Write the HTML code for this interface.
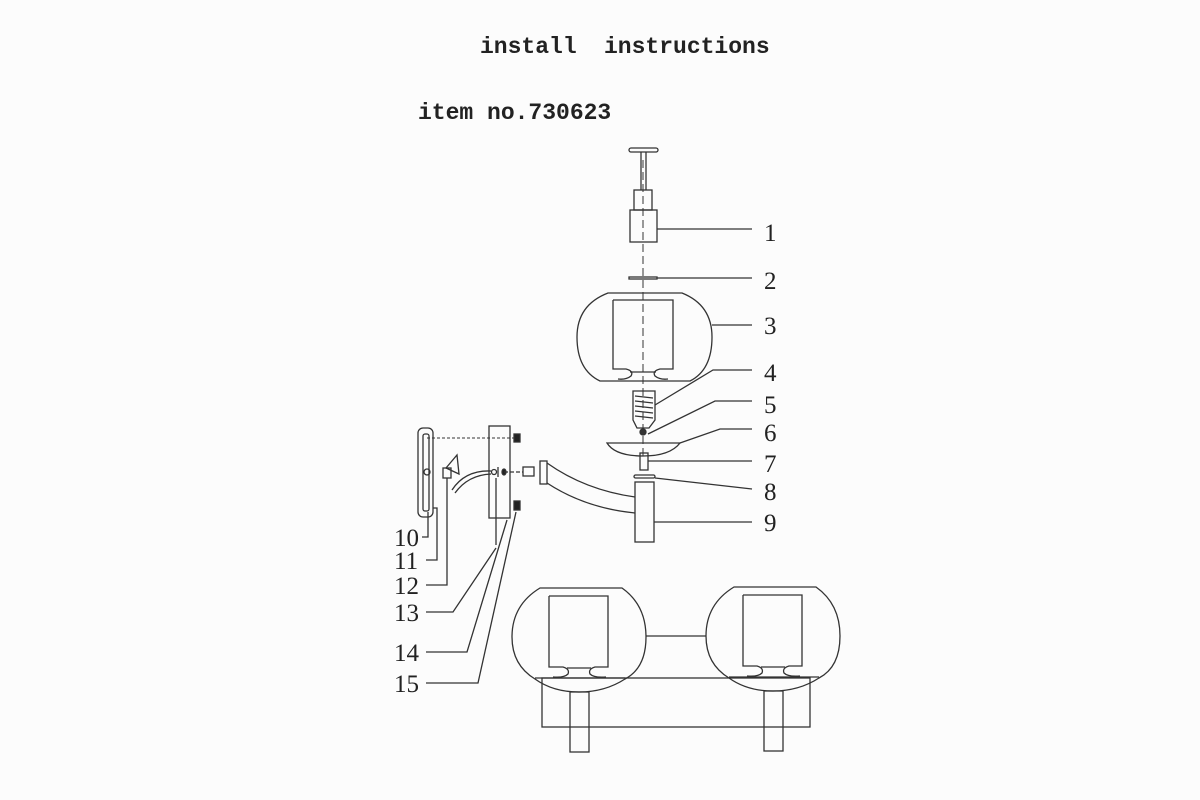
<!DOCTYPE html>
<html><head><meta charset="utf-8"><style>
html,body{margin:0;padding:0;background:#fcfcfc;}
svg{display:block}
text{font-family:"Liberation Serif",serif;fill:#222}
.t{font-family:"Liberation Mono",monospace;font-weight:bold;font-size:23px}
</style></head><body>
<svg width="1200" height="800" viewBox="0 0 1200 800" xmlns="http://www.w3.org/2000/svg">
<g fill="none" stroke="#333" stroke-width="1.3">
<line x1="643" y1="160" x2="643" y2="460" stroke-dasharray="8,4" stroke-width="1"/>
<rect x="629" y="148" width="29" height="4" rx="2"/>
<line x1="641" y1="152" x2="641" y2="190"/><line x1="646" y1="152" x2="646" y2="190"/>
<rect x="634" y="190" width="18" height="20"/>
<rect x="630" y="210" width="27" height="32"/>
<line x1="657" y1="229" x2="752" y2="229"/>
<rect x="629" y="277" width="28" height="2"/>
<line x1="657" y1="278" x2="752" y2="278"/>
<path d="M608 293 L682 293 Q712 305 712 337 Q712 370 690 381 L600 381 Q577 370 577 337 Q577 305 608 293 Z"/>
<path d="M613 300 L673 300 L673 369 L660 369 Q652 371 655 376 Q660 380 668 379 M613 300 L613 369 L626 369 Q634 371 631 376 Q626 380 618 379"/>
<line x1="630" y1="372" x2="656" y2="372"/>
<line x1="712" y1="325" x2="752" y2="325"/>
<path d="M633 391 L655 391 L655 420 L649 428 L637 428 L633 420 Z"/>
<path d="M635 396 L653 398 M635 401 L653 403 M635 406 L653 408 M635 411 L653 413 M635 416 L653 418"/>
<path d="M655 405 L713 370 L752 370"/>
<circle cx="643" cy="432" r="3" fill="#333"/>
<path d="M648 434 L715 401 L752 401"/>
<path d="M607 443 L680 443 Q670 456 643 456 Q615 456 607 443 Z"/>
<path d="M680 443 L720 429 L752 429"/>
<rect x="640" y="453" width="8" height="17"/>
<line x1="648" y1="461" x2="752" y2="461"/>
<rect x="634" y="475" width="21" height="3" rx="1.5"/>
<line x1="655" y1="478" x2="752" y2="489"/>
<rect x="540" y="461" width="7" height="23"/>
<path d="M547 463 Q585 490 635 497 M547 483 Q585 508 635 513"/>
<rect x="635" y="482" width="19" height="60"/>
<line x1="654" y1="522" x2="752" y2="522"/>
<rect x="418" y="428" width="15" height="89" rx="5"/>
<rect x="423" y="434" width="6" height="77" rx="2"/>
<circle cx="427" cy="472" r="3"/>
<line x1="427" y1="438" x2="520" y2="438" stroke-dasharray="3,2" stroke-width="0.9"/>
<rect x="514" y="434" width="6" height="8" fill="#222"/>
<rect x="514" y="501" width="6" height="9" fill="#222"/>
<rect x="489" y="426" width="21" height="92"/>
<circle cx="494" cy="472" r="2.5"/>
<line x1="498" y1="467" x2="498" y2="477"/>
<ellipse cx="504" cy="472" rx="2" ry="3" fill="#222"/>
<line x1="504" y1="472" x2="523" y2="472" stroke-dasharray="4,2"/>
<rect x="523" y="467" width="11" height="9"/>
<line x1="496" y1="478" x2="496" y2="545"/>
<path d="M446 468 L457 455 L459 474 Z"/>
<path d="M491 471 Q465 470 452 490 M491 474 Q468 475 455 493"/>
<rect x="443" y="468" width="8" height="10"/>
<path d="M428 512 L428 537 L422 537"/>
<path d="M433 508 L437 508 L437 560 L426 560"/>
<path d="M447 478 L447 585 L426 585"/>
<path d="M496 548 L453 612 L426 612"/>
<path d="M507 520 L467 652 L426 652"/>
<path d="M516 512 L478 683 L426 683"/>
<g id="gl">
<path d="M540 588 L622 588 Q646 605 646 637 Q646 668 625 679 Q605 692 579 692 Q553 692 535 679 Q512 665 512 637 Q512 605 540 588 Z"/>
<path d="M549 596 L608 596 L608 667 L595 667 Q588 669 590 674 Q594 678 606 677 M549 596 L549 667 L563 667 Q570 669 568 674 Q564 678 553 677"/>
<line x1="567" y1="668" x2="591" y2="668"/>
<line x1="535" y1="678" x2="625" y2="678"/>
<rect x="570" y="692" width="19" height="60"/>
</g>
<use href="#gl" transform="translate(194,-1)"/>
<line x1="646" y1="636" x2="706" y2="636"/>
<rect x="542" y="678" width="268" height="49"/>
</g>
<text x="480" y="53" class="t">install</text>
<text x="604" y="53" class="t">instructions</text>
<text x="418" y="119" class="t">item no.730623</text>
<g font-size="25">
<text x="764" y="241">1</text>
<text x="764" y="289">2</text>
<text x="764" y="334">3</text>
<text x="764" y="381">4</text>
<text x="764" y="413">5</text>
<text x="764" y="441">6</text>
<text x="764" y="472">7</text>
<text x="764" y="500">8</text>
<text x="764" y="531">9</text>
<text x="394" y="546">10</text>
<text x="394" y="569">11</text>
<text x="394" y="594">12</text>
<text x="394" y="621">13</text>
<text x="394" y="661">14</text>
<text x="394" y="692">15</text>
</g>
</svg>
</body></html>
